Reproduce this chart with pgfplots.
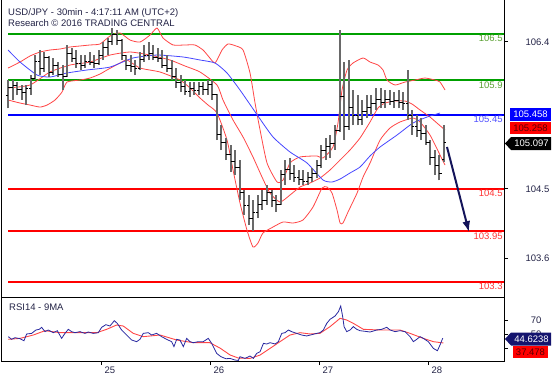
\documentclass[border=0pt]{standalone}
\usepackage{fontspec}
\setmainfont{Liberation Sans}
\usepackage{pgfplots}
\usepackage{pgfplotstable}
\pgfplotsset{compat=1.18}
\usetikzlibrary{arrows.meta}

\definecolor{barg}{RGB}{105,105,105}
\definecolor{bandred}{RGB}{255,70,70}
\definecolor{mablue}{RGB}{70,70,255}
\definecolor{supgreen}{RGB}{0,160,0}
\definecolor{labgreen}{RGB}{90,160,50}
\definecolor{labblue}{RGB}{80,80,255}
\definecolor{labred}{RGB}{255,50,50}
\definecolor{txtnavy}{RGB}{35,35,70}
\definecolor{arrownavy}{RGB}{20,20,90}
\definecolor{rsiblue}{RGB}{40,40,160}
\definecolor{boxnavy}{RGB}{20,20,110}
\definecolor{darkredtxt}{RGB}{90,0,0}

\newcommand\fs{\fontsize{9.5}{11}\selectfont}

\pgfdeclareplotmark{otick}{\pgfpathmoveto{\pgfqpoint{-\pgfplotmarksize}{0pt}}\pgfpathlineto{\pgfqpoint{0pt}{0pt}}\pgfusepathqstroke}
\pgfdeclareplotmark{ctick}{\pgfpathmoveto{\pgfqpoint{0pt}{0pt}}\pgfpathlineto{\pgfqpoint{\pgfplotmarksize}{0pt}}\pgfusepathqstroke}

% hourly OHLC bars
\pgfplotstableread{
d o h l c
24.147 105.71 105.91 105.54 105.81
24.189 105.81 105.91 105.65 105.84
24.230 105.84 105.88 105.71 105.78
24.272 105.78 105.84 105.65 105.74
24.314 105.74 105.84 105.58 105.80
24.355 105.80 105.97 105.71 105.92
24.397 105.92 106.23 105.91 106.15
24.439 106.15 106.29 105.97 106.05
24.480 106.05 106.27 106.01 106.20
24.522 106.20 106.22 105.94 106.00
24.564 106.00 106.19 105.97 106.10
24.605 106.10 106.14 105.94 105.98
24.647 105.98 106.10 105.78 105.95
24.689 105.95 106.36 105.94 106.25
24.730 106.25 106.32 106.14 106.18
24.772 106.18 106.29 106.06 106.12
24.814 106.12 106.23 106.03 106.10
24.855 106.10 106.23 106.06 106.15
24.897 106.15 106.27 106.10 106.13
24.939 106.13 106.23 106.06 106.12
24.980 106.12 106.29 106.10 106.22
25.022 106.22 106.40 106.16 106.33
25.064 106.33 106.45 106.23 106.40
25.105 106.40 106.58 106.36 106.50
25.147 106.50 106.55 106.36 106.42
25.189 106.42 106.44 106.16 106.22
25.230 106.22 106.23 106.03 106.10
25.272 106.10 106.23 106.01 106.08
25.314 106.08 106.16 105.97 106.05
25.355 106.05 106.27 106.04 106.17
25.397 106.17 106.36 106.14 106.22
25.439 106.22 106.40 106.16 106.25
25.480 106.25 106.36 106.16 106.20
25.522 106.20 106.32 106.14 106.18
25.564 106.18 106.29 106.06 106.10
25.605 106.10 106.23 106.01 106.05
25.647 106.05 106.16 105.91 105.95
25.689 105.95 106.06 105.80 105.88
25.730 105.88 105.97 105.75 105.82
25.772 105.82 105.91 105.71 105.76
25.814 105.76 105.88 105.69 105.80
25.855 105.80 105.88 105.71 105.77
25.897 105.77 105.88 105.71 105.82
25.939 105.82 105.88 105.71 105.78
25.980 105.78 105.91 105.71 105.85
26.022 105.85 105.91 105.65 105.72
26.064 105.72 105.73 105.13 105.20
26.105 105.20 105.32 105.00 105.10
26.147 105.10 105.16 104.87 104.95
26.189 104.95 105.07 104.72 104.85
26.230 104.85 105.00 104.68 104.78
26.272 104.78 104.87 104.36 104.45
26.314 104.45 104.48 104.16 104.28
26.355 104.28 104.42 104.03 104.12
26.397 104.12 104.36 103.96 104.20
26.439 104.20 104.42 104.12 104.30
26.480 104.30 104.48 104.23 104.35
26.522 104.35 104.55 104.29 104.45
26.564 104.45 104.48 104.26 104.35
26.605 104.35 104.42 104.20 104.30
26.647 104.30 104.74 104.29 104.68
26.689 104.68 104.87 104.55 104.75
26.730 104.75 104.90 104.61 104.70
26.772 104.70 104.81 104.59 104.65
26.814 104.65 104.74 104.55 104.62
26.855 104.62 104.74 104.55 104.60
26.897 104.60 104.72 104.55 104.65
26.939 104.65 104.77 104.59 104.70
26.980 104.70 104.87 104.64 104.80
27.022 104.80 105.07 104.77 105.00
27.064 105.00 105.16 104.87 105.05
27.105 105.05 105.20 104.90 105.08
27.147 105.08 105.32 105.00 105.25
27.189 105.25 106.55 105.24 105.70
27.230 105.70 106.14 105.13 105.30
27.272 105.30 106.16 105.26 105.55
27.314 105.55 105.78 105.32 105.45
27.355 105.45 105.71 105.32 105.40
27.397 105.40 105.65 105.32 105.50
27.439 105.50 105.71 105.41 105.55
27.480 105.55 105.71 105.45 105.60
27.522 105.60 105.80 105.52 105.65
27.564 105.65 105.80 105.54 105.62
27.605 105.62 105.78 105.54 105.65
27.647 105.65 105.78 105.58 105.63
27.689 105.63 105.75 105.54 105.64
27.730 105.64 105.78 105.54 105.62
27.772 105.62 105.75 105.52 105.60
27.814 105.60 106.03 105.39 105.45
27.855 105.45 105.52 105.20 105.30
27.897 105.30 105.45 105.17 105.25
27.939 105.25 105.41 105.13 105.22
27.980 105.22 105.32 105.07 105.10
28.022 105.10 105.13 104.81 104.90
28.064 104.90 105.00 104.68 104.80
28.105 104.80 104.94 104.61 104.70
28.147 104.88 105.32 104.84 105.10
}\ohlc

\pgfplotstableread{
d p
24.147 106.060
24.257 106.138
24.349 106.216
24.440 106.267
24.532 106.293
24.624 106.306
24.716 106.332
24.807 106.345
24.899 106.358
24.991 106.371
25.083 106.474
25.174 106.513
25.266 106.422
25.358 106.396
25.450 106.487
25.514 106.577
25.569 106.448
25.661 106.358
25.771 106.358
25.862 106.358
25.936 106.293
25.991 106.203
26.046 106.125
26.110 106.293
26.165 106.371
26.239 106.345
26.303 106.293
26.367 105.996
26.413 105.608
26.459 105.260
26.523 104.833
26.615 104.588
26.670 104.613
26.734 104.833
26.826 104.911
26.982 104.924
27.037 104.898
27.128 105.040
27.174 105.350
27.211 105.776
27.257 106.035
27.312 106.125
27.404 106.190
27.468 106.138
27.541 106.099
27.587 106.035
27.624 105.905
27.697 105.841
27.789 105.879
27.881 105.905
27.972 105.931
28.064 105.905
28.110 105.879
28.156 105.776
}\bandup

\pgfplotstableread{
d p
24.147 105.802
24.349 105.841
24.532 106.009
24.716 106.099
24.899 106.138
25.083 106.228
25.266 106.267
25.450 106.228
25.633 106.164
25.771 106.086
25.908 106.009
26.064 105.841
26.119 105.647
26.211 105.389
26.303 105.169
26.394 104.911
26.477 104.652
26.550 104.445
26.642 104.329
26.734 104.420
26.826 104.523
26.917 104.575
27.009 104.639
27.101 104.743
27.193 104.872
27.284 105.001
27.376 105.156
27.468 105.363
27.541 105.544
27.606 105.608
27.697 105.634
27.789 105.634
27.853 105.595
27.927 105.518
28.018 105.427
28.092 105.337
28.156 105.260
}\bandmid

\pgfplotstableread{
d p
24.147 105.647
24.257 105.608
24.349 105.582
24.440 105.556
24.505 105.582
24.578 105.647
24.642 105.750
24.688 105.879
24.807 105.905
24.899 105.931
24.991 105.983
25.055 106.035
25.174 106.125
25.239 106.164
25.358 106.060
25.541 106.009
25.725 105.905
25.817 105.802
25.908 105.673
25.982 105.582
26.064 105.479
26.156 105.130
26.211 104.743
26.275 104.316
26.339 103.967
26.394 103.748
26.440 103.800
26.486 103.929
26.578 104.006
26.670 104.071
26.762 104.058
26.853 104.097
26.945 104.265
27.028 104.510
27.073 104.523
27.119 104.445
27.165 104.226
27.193 104.058
27.220 104.058
27.266 104.200
27.349 104.445
27.404 104.652
27.468 104.833
27.560 105.130
27.651 105.285
27.743 105.363
27.862 105.414
27.927 105.363
28.018 105.195
28.110 104.937
28.156 104.807
}\bandlow

\pgfplotstableread{
d p
24.147 106.293
24.257 106.138
24.413 105.970
24.532 105.944
24.688 105.996
24.872 106.035
25.083 106.073
25.294 106.190
25.514 106.228
25.752 106.203
25.908 106.164
26.046 106.125
26.156 105.996
26.275 105.776
26.440 105.440
26.578 105.169
26.734 104.975
26.890 104.833
27.037 104.613
27.119 104.588
27.193 104.626
27.284 104.704
27.376 104.781
27.468 104.924
27.560 105.040
27.716 105.195
27.862 105.350
27.991 105.427
28.110 105.479
}\bluema

\pgfplotstableread{
d v
24.149 46.7
24.180 42.8
24.211 45.2
24.256 43.8
24.293 40.8
24.318 50.6
24.364 51.5
24.403 56.4
24.434 57.4
24.455 60.3
24.486 54.0
24.516 56.4
24.562 52.5
24.599 55.4
24.639 44.2
24.669 51.5
24.700 57.4
24.730 54.0
24.761 52.5
24.807 54.0
24.853 51.5
24.883 53.5
24.929 51.5
24.975 52.5
25.006 60.3
25.045 64.2
25.082 62.2
25.122 70.0
25.149 66.1
25.189 56.4
25.235 49.1
25.281 41.8
25.327 39.4
25.357 42.8
25.388 51.5
25.434 52.5
25.464 49.1
25.510 51.5
25.556 46.7
25.602 42.8
25.648 39.4
25.669 32.1
25.694 42.8
25.724 41.8
25.755 32.1
25.786 44.2
25.816 39.4
25.847 37.9
25.893 39.4
25.938 39.4
25.984 44.2
26.015 36.9
26.061 22.3
26.100 17.5
26.146 14.5
26.184 15.0
26.230 12.6
26.260 12.0
26.275 17.5
26.321 15.0
26.367 18.5
26.398 15.0
26.428 22.3
26.459 24.8
26.490 36.9
26.520 36.0
26.551 37.9
26.597 36.0
26.627 39.4
26.658 51.5
26.688 52.5
26.719 56.4
26.749 54.0
26.795 51.5
26.841 49.1
26.887 47.7
26.933 49.6
26.979 51.5
27.009 52.5
27.040 56.4
27.071 66.1
27.101 72.0
27.147 76.8
27.178 83.2
27.199 91.4
27.217 75.9
27.230 61.3
27.254 54.0
27.285 56.4
27.315 61.3
27.346 57.4
27.376 55.4
27.422 54.5
27.468 53.5
27.529 56.4
27.575 57.4
27.621 60.3
27.652 56.4
27.697 54.0
27.743 55.4
27.789 54.0
27.835 46.7
27.866 39.4
27.896 42.8
27.927 46.7
27.957 44.2
28.003 39.4
28.049 29.6
28.086 26.2
28.110 34.5
28.135 44.6
}\rsi

\pgfplotstableread{
d v
24.149 42.8
24.256 44.2
24.379 49.1
24.486 55.4
24.624 52.5
24.807 52.5
24.960 52.5
25.052 57.4
25.143 63.7
25.204 62.2
25.296 51.5
25.388 46.7
25.541 49.1
25.694 41.8
25.847 37.9
25.999 37.9
26.092 30.0
26.184 20.0
26.260 15.5
26.367 15.0
26.459 19.9
26.551 29.6
26.642 39.4
26.734 49.1
26.826 52.5
26.918 50.6
27.009 51.5
27.101 61.3
27.193 73.4
27.254 71.0
27.315 66.1
27.407 57.4
27.560 56.4
27.743 56.4
27.835 51.5
27.957 44.2
28.049 39.4
28.141 37.5
}\rsima

\begin{document}
\begin{tikzpicture}[x=1pt,y=1pt]
\useasboundingbox (0,0) rectangle (557,376);

% ---------------- price panel ----------------
\begin{axis}[
  at={(1.5pt,78.7pt)}, anchor=south west, scale only axis,
  width=502.5pt, height=299.3pt,
  xmin=24.087, xmax=28.697, ymin=103.098, ymax=106.965,
  axis line style={line width=0.8pt, black},
  xtick=\empty,
  ytick={103.6,104.5,106.4}, yticklabels={103.6,104.5,106.4},
  ytick pos=right, tick align=outside, major tick length=4pt,
  tick style={black, line width=0.6pt},
  yticklabel style={font=\fs, text=txtnavy, anchor=west, xshift=14pt},
]
% support / resistance lines
\addplot[supgreen, line width=2pt] coordinates {(24.147,106.5) (28.697,106.5)};
\addplot[supgreen, line width=2pt] coordinates {(24.147,105.9) (28.697,105.9)};
\addplot[blue, line width=2pt] coordinates {(24.147,105.458) (28.697,105.458)};
\addplot[red, line width=2pt] coordinates {(24.147,104.5) (28.697,104.5)};
\addplot[red, line width=2pt] coordinates {(24.147,103.95) (28.697,103.95)};
\addplot[red, line width=2pt] coordinates {(24.147,103.3) (28.697,103.3)};

% indicators
\addplot[bandred, line width=0.8pt, smooth, tension=0.35] table[x=d,y=p] {\bandup};
\addplot[bandred, line width=0.8pt, smooth, tension=0.35] table[x=d,y=p] {\bandmid};
\addplot[bandred, line width=0.8pt, smooth, tension=0.35] table[x=d,y=p] {\bandlow};
\addplot[mablue, line width=0.8pt, smooth, tension=0.35] table[x=d,y=p] {\bluema};

% OHLC bars: high-low range, open tick (left), close tick (right)
\addplot[draw=barg, line width=2pt, quiver={u=0, v=\thisrow{h}-\thisrow{l}}]
  table[x=d, y=l] {\ohlc};
\addplot[only marks, mark=otick, mark size=2.2pt, mark options={black, line width=0.8pt}] table[x=d,y=o] {\ohlc};
\addplot[only marks, mark=ctick, mark size=2.2pt, mark options={black, line width=0.8pt}] table[x=d,y=c] {\ohlc};

% forecast arrow
\addplot[arrownavy, line width=2pt, -{Latex[length=11pt,width=8pt]}] coordinates {(28.174,105.04) (28.376,103.94)};

% line labels
\node[anchor=north east, inner sep=1pt, font=\fs, text=labgreen] at (axis cs:28.695,106.5) {106.5};
\node[anchor=north east, inner sep=1pt, font=\fs, text=labgreen] at (axis cs:28.695,105.9) {105.9};
\node[anchor=north east, inner sep=1pt, font=\fs, text=labblue] at (axis cs:28.695,105.458) {105.45};
\node[anchor=north east, inner sep=1pt, font=\fs, text=labred] at (axis cs:28.695,104.5) {104.5};
\node[anchor=north east, inner sep=1pt, font=\fs, text=labred] at (axis cs:28.695,103.95) {103.95};
\node[anchor=north east, inner sep=1pt, font=\fs, text=labred] at (axis cs:28.695,103.3) {103.3};
\end{axis}

% ---------------- RSI panel ----------------
\begin{axis}[
  at={(1.5pt,15pt)}, anchor=south west, scale only axis,
  width=502.5pt, height=63.7pt,
  xmin=24.087, xmax=28.697, ymin=11.2, ymax=104.1,
  axis line style={line width=0.8pt, black},
  xtick={25,26,27,28}, xticklabels={25,26,27,28},
  ytick={30,50,70}, yticklabels={,50,70},
  ytick pos=right, xtick pos=bottom, tick align=outside,
  major tick length=4pt,
  tick style={black, line width=0.6pt},
  yticklabel style={font=\fs, text=txtnavy, anchor=east, xshift=37pt},
  xticklabel style={font=\fs, text=txtnavy, anchor=north west, xshift=0pt, yshift=2pt},
]
\addplot[bandred, line width=0.9pt] table[x=d,y=v] {\rsima};
\addplot[rsiblue, line width=0.8pt] table[x=d,y=v] {\rsi};
\end{axis}

% titles
\node[anchor=base west, inner sep=0pt, font=\fs, text=txtnavy] at (8,360) {USD/JPY - 30min - 4:17:11 AM (UTC+2)};
\node[anchor=base west, inner sep=0pt, font=\fs, text=txtnavy] at (8,349) {Research © 2016 TRADING CENTRAL};
\node[anchor=base west, inner sep=0pt, font=\fs, text=txtnavy] at (9,66) {RSI14 - 9MA};

% right-hand value boxes (price)
\fill[blue] (510,255.5) rectangle (551,268);
\node[font=\fs, text=white, inner sep=0pt] at (530.5,261.7) {105.458};
\fill[red] (510,242) rectangle (551,254.5);
\node[font=\fs, text=darkredtxt, inner sep=0pt] at (530.5,248.2) {105.258};
\fill[black] (505,232.5) -- (511,239) -- (551,239) -- (551,226) -- (511,226) -- cycle;
\node[font=\fs, text=white, inner sep=0pt] at (531.5,232.5) {105.097};
% right-hand value boxes (RSI)
\fill[boxnavy] (505,37) -- (511,43.5) -- (551,43.5) -- (551,30.5) -- (511,30.5) -- cycle;
\node[font=\fs, text=white, inner sep=0pt] at (531.5,37) {44.6238};
\fill[red] (513,18.5) rectangle (548,30);
\node[font=\fs, text=darkredtxt, inner sep=0pt] at (530.5,24.2) {37.478};
\end{tikzpicture}
\end{document}
